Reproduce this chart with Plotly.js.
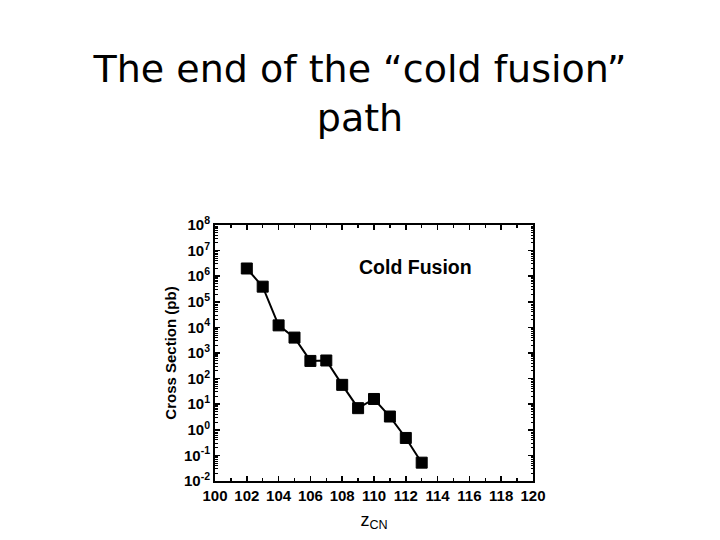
<!DOCTYPE html>
<html>
<head>
<meta charset="utf-8">
<script src="https://cdn.plot.ly/plotly-3.0.1.min.js"></script>
<style>html,body{margin:0;padding:0;background:#fff;}#chart{width:720px;height:540px;}</style>
</head>
<body>
<div id="chart"></div>
<script>
// Data
var zCN = [102, 103, 104, 105, 106, 107, 108, 109, 110, 111, 112, 113];
var crossSection = [2.0e6, 3.9e5, 1.2e4, 4.0e3, 490, 510, 57, 7.0, 16, 3.3, 0.48, 0.052];
var yTickVals = [1e-2, 1e-1, 1e0, 1e1, 1e2, 1e3, 1e4, 1e5, 1e6, 1e7, 1e8];
var yTickText = ['10<sup>-2</sup>','10<sup>-1</sup>','10<sup>0</sup>','10<sup>1</sup>','10<sup>2</sup>','10<sup>3</sup>','10<sup>4</sup>','10<sup>5</sup>','10<sup>6</sup>','10<sup>7</sup>','10<sup>8</sup>'];

var minorY = [];
for (var e = -2; e < 8; e++) { for (var m = 2; m <= 9; m++) { minorY.push(m * Math.pow(10, e)); } }

var trace = {
  x: zCN, y: crossSection, type: 'scatter', mode: 'lines+markers',
  line: {color: '#000', width: 2},
  marker: {symbol: 'square', size: 11, color: '#000', line: {color: '#000', width: 1}},
  showlegend: false
};

var layout = {
  width: 720, height: 540,
  paper_bgcolor: '#fff', plot_bgcolor: '#fff',
  margin: {l: 215, r: 187, t: 225, b: 59},
  title: {
    text: 'The end of the \u201ccold fusion\u201d<br>path',
    font: {family: 'Comic Sans MS, DejaVu Sans, sans-serif', size: 38, color: '#000'},
    x: 0.5, xanchor: 'center', xref: 'container',
    y: 0.848, yanchor: 'top', yref: 'container'
  },
  xaxis: {
    range: [100, 120], tickmode: 'linear', tick0: 100, dtick: 2,
    ticks: 'inside', ticklen: 5, tickwidth: 1.5, tickcolor: '#000',
    showline: true, linewidth: 2, linecolor: '#000', mirror: 'ticks',
    showgrid: false, zeroline: false,
    tickfont: {family: 'Liberation Sans, Arial, sans-serif', size: 15, color: '#000', weight: 'bold'},
    minor: {dtick: 1, ticks: 'inside', ticklen: 3, tickwidth: 1.5, tickcolor: '#000', showgrid: false},
    title: {text: 'z<sub>CN</sub>', font: {family: 'Liberation Sans, Arial, sans-serif', size: 18, color: '#000'}, standoff: 10}
  },
  yaxis: {
    type: 'log', range: [-2, 8],
    tickmode: 'array', tickvals: yTickVals, ticktext: yTickText,
    ticks: 'inside', ticklen: 5, tickwidth: 1.5, tickcolor: '#000',
    showline: true, linewidth: 2, linecolor: '#000', mirror: 'ticks',
    showgrid: false, zeroline: false,
    tickfont: {family: 'Liberation Sans, Arial, sans-serif', size: 15, color: '#000', weight: 'bold'},
    minor: {tickmode: 'array', tickvals: minorY, ticks: 'inside', ticklen: 2.5, tickwidth: 1, tickcolor: '#000', showgrid: false},
    title: {text: 'Cross Section (pb)', font: {family: 'Liberation Sans, Arial, sans-serif', size: 15, color: '#000', weight: 'bold'}, standoff: 4}
  },
  annotations: [{
    text: 'Cold Fusion', xref: 'x', yref: 'paper', x: 112.6, y: 0.835,
    xanchor: 'center', yanchor: 'middle', showarrow: false,
    font: {family: 'Liberation Sans, Arial, sans-serif', size: 19.5, color: '#000', weight: 'bold'}
  }]
};

Plotly.newPlot('chart', [trace], layout, {displayModeBar: false, staticPlot: true});
</script>
</body>
</html>
